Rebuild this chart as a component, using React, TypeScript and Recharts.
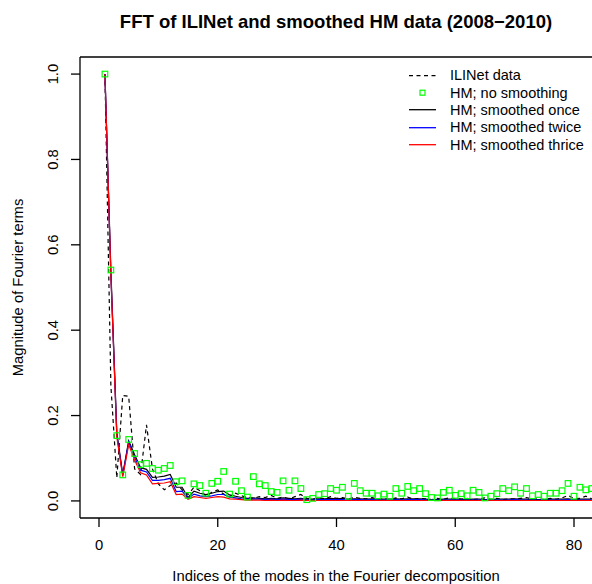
import React from "react";
import { ComposedChart, Line, XAxis, YAxis } from "recharts";

const FONT = "'Liberation Sans', Arial, Helvetica, sans-serif";

// mode index 1..83 (visible part of the plot)
const ilinet = [
  1.0, 0.27, 0.054, 0.247, 0.245, 0.075, 0.062, 0.178, 0.075, 0.04,
  0.026, 0.036, 0.042, 0.026, 0.015, 0.032, 0.024, 0.012, 0.02, 0.026,
  0.016, 0.01, 0.018, 0.012, 0.008, 0.006, 0.01, 0.008, 0.013, 0.006,
  0.009, 0.005, 0.01, 0.015, 0.006, 0.004, 0.008, 0.005, 0.01, 0.006,
  0.008, 0.004, 0.009, 0.006, 0.005, 0.008, 0.004, 0.006, 0.003, 0.007,
  0.005, 0.009, 0.004, 0.006, 0.005, 0.003, 0.006, 0.004, 0.007, 0.005,
  0.004, 0.006, 0.003, 0.005, 0.007, 0.004, 0.006, 0.003, 0.005, 0.004,
  0.006, 0.008, 0.004, 0.005, 0.003, 0.006, 0.004, 0.007, 0.013, 0.005,
  0.006, 0.011, 0.005,
];

const hmRaw = [
  1.0, 0.541, 0.153, 0.061, 0.144, 0.111, 0.085, 0.088, 0.076, 0.072,
  0.076, 0.083, 0.045, 0.047, 0.013, 0.04, 0.036, 0.018, 0.041, 0.046,
  0.069, 0.016, 0.046, 0.024, 0.009, 0.057, 0.04, 0.036, 0.022, 0.02,
  0.047, 0.025, 0.047, 0.029, 0.003, 0.006, 0.015, 0.017, 0.029, 0.025,
  0.032, 0.011, 0.041, 0.024, 0.018, 0.018, 0.012, 0.016, 0.011, 0.029,
  0.018, 0.034, 0.024, 0.029, 0.017, 0.008, 0.007, 0.02, 0.025, 0.013,
  0.017, 0.012, 0.025, 0.02, 0.007, 0.011, 0.017, 0.029, 0.024, 0.033,
  0.018, 0.029, 0.012, 0.015, 0.011, 0.018, 0.018, 0.024, 0.041, 0.011,
  0.032, 0.026, 0.029,
];

const hmOnce = [
  1.0, 0.54, 0.16, 0.062, 0.141, 0.108, 0.078, 0.074, 0.055, 0.056,
  0.058, 0.062, 0.032, 0.032, 0.008, 0.023, 0.018, 0.015, 0.018, 0.022,
  0.023, 0.014, 0.011, 0.008, 0.006, 0.007, 0.006, 0.005, 0.006, 0.005,
  0.007, 0.006, 0.005, 0.006, 0.004, 0.004, 0.005, 0.005, 0.006, 0.005,
  0.006, 0.004, 0.005, 0.005, 0.004, 0.005, 0.004, 0.004, 0.004, 0.005,
  0.004, 0.005, 0.005, 0.005, 0.004, 0.003, 0.003, 0.004, 0.004, 0.004,
  0.004, 0.003, 0.004, 0.004, 0.003, 0.003, 0.004, 0.004, 0.004, 0.005,
  0.004, 0.004, 0.003, 0.003, 0.003, 0.004, 0.004, 0.004, 0.005, 0.003,
  0.004, 0.004, 0.004,
];

const hmTwice = [
  1.0, 0.53, 0.155, 0.06, 0.138, 0.102, 0.072, 0.068, 0.048, 0.048,
  0.05, 0.053, 0.022, 0.023, 0.006, 0.016, 0.012, 0.01, 0.012, 0.015,
  0.015, 0.009, 0.007, 0.005, 0.004, 0.004, 0.004, 0.003, 0.004, 0.003,
  0.004, 0.003, 0.003, 0.004, 0.002, 0.002, 0.003, 0.003, 0.003, 0.003,
  0.003, 0.002, 0.003, 0.003, 0.002, 0.003, 0.002, 0.002, 0.002, 0.003,
  0.002, 0.003, 0.003, 0.003, 0.002, 0.002, 0.002, 0.002, 0.002, 0.002,
  0.002, 0.002, 0.002, 0.002, 0.002, 0.002, 0.002, 0.002, 0.002, 0.003,
  0.002, 0.002, 0.002, 0.002, 0.002, 0.002, 0.002, 0.002, 0.003, 0.002,
  0.002, 0.002, 0.002,
];

const hmThrice = [
  1.0, 0.53, 0.15, 0.057, 0.132, 0.096, 0.066, 0.061, 0.04, 0.041,
  0.042, 0.045, 0.015, 0.016, 0.004, 0.01, 0.008, 0.006, 0.008, 0.01,
  0.009, 0.005, 0.004, 0.003, 0.002, 0.002, 0.002, 0.001, 0.002, 0.001,
  0.002, 0.001, 0.001, 0.002, 0.001, 0.001, 0.001, 0.001, 0.001, 0.001,
  0.001, 0.001, 0.001, 0.001, 0.001, 0.001, 0.001, 0.001, 0.001, 0.001,
  0.001, 0.001, 0.001, 0.001, 0.001, 0.001, 0.001, 0.001, 0.001, 0.001,
  0.001, 0.001, 0.001, 0.001, 0.001, 0.001, 0.001, 0.001, 0.001, 0.001,
  0.001, 0.001, 0.001, 0.001, 0.001, 0.001, 0.001, 0.001, 0.001, 0.001,
  0.001, 0.001, 0.001,
];

const xTicks = [0, 20, 40, 60, 80];
const yTicks = [0, 0.2, 0.4, 0.6, 0.8, 1.0];

const legendItems = [
  { label: "ILINet data", kind: "dash", color: "#000000" },
  { label: "HM; no smoothing", kind: "square", color: "#00ff00" },
  { label: "HM; smoothed once", kind: "line", color: "#000000" },
  { label: "HM; smoothed twice", kind: "line", color: "#0000ff" },
  { label: "HM; smoothed thrice", kind: "line", color: "#ff0000" },
];

const data = ilinet.map((v, i) => ({
  idx: i + 1,
  ilinet: v,
  raw: hmRaw[i],
  once: hmOnce[i],
  twice: hmTwice[i],
  thrice: hmThrice[i],
}));

const XTick = ({ x, payload }: any) => (
  <text x={x} y={550} textAnchor="middle" fontSize={14.8} fontFamily={FONT} fill="#000">
    {payload.value}
  </text>
);

const YTick = ({ y, payload }: any) => (
  <text
    x={58}
    y={y}
    transform={`rotate(-90, 58, ${y})`}
    textAnchor="middle"
    fontSize={14.8}
    fontFamily={FONT}
    fill="#000"
  >
    {payload.value.toFixed(1)}
  </text>
);

const Square = (props: any) => {
  const { cx, cy, index } = props;
  if (cx == null || cy == null) return <g key={index} />;
  return (
    <rect key={index} x={cx - 2.8} y={cy - 2.8} width={5.6} height={5.6}
      fill="none" stroke="#00ff00" strokeWidth={1.2} />
  );
};

// legend drawn in its own layer so it doesn't eat plot space
const LegendBox = () => (
  <div style={{ position: "absolute", top: 66.5, left: 405, width: 190, fontFamily: FONT, fontSize: 14.5, color: "#000" }}>
    {legendItems.map((it) => (
      <div key={it.label} style={{ display: "flex", alignItems: "center", height: 17.4 }}>
        <svg width={45} height={17.4} style={{ flex: "none" }}>
          {it.kind === "square" ? (
            <rect x={15} y={6.2} width={5} height={5} fill="none" stroke={it.color} strokeWidth={1.2} />
          ) : (
            <line x1={4} x2={31} y1={8.7} y2={8.7} stroke={it.color} strokeWidth={1.3}
              strokeDasharray={it.kind === "dash" ? "4 3.5" : undefined} />
          )}
        </svg>
        <span style={{ whiteSpace: "nowrap" }}>{it.label}</span>
      </div>
    ))}
  </div>
);

export default function App() {
  return (
    <div style={{ position: "absolute", left: 0, top: 0, width: 592, height: 584, overflow: "hidden", background: "#fff" }}>
      <ComposedChart width={594} height={584} data={data}
        margin={{ top: 57, right: 1, left: 20, bottom: 26 }}>
        <XAxis dataKey="idx" type="number" domain={[-3.2, 83.2]} ticks={xTicks}
          allowDataOverflow interval={0} height={40}
          axisLine={{ stroke: "#000", strokeWidth: 1.3 }} tickLine={{ stroke: "#000", strokeWidth: 1.3 }}
          tickSize={9} tick={<XTick />} />
        <YAxis type="number" domain={[-0.04, 1.04]} ticks={yTicks} allowDataOverflow
          interval={0} width={60}
          axisLine={{ stroke: "#000", strokeWidth: 1.3 }} tickLine={{ stroke: "#000", strokeWidth: 1.3 }}
          tickSize={9} tick={<YTick />} />
        <Line dataKey="ilinet" stroke="#000" strokeWidth={1.2} strokeDasharray="4 3.5"
          dot={false} activeDot={false} isAnimationActive={false} type="linear" />
        <Line dataKey="raw" stroke="none" strokeWidth={0} dot={Square} activeDot={false}
          isAnimationActive={false} />
        <Line dataKey="once" stroke="#000" strokeWidth={1.2} dot={false} activeDot={false}
          isAnimationActive={false} type="linear" />
        <Line dataKey="twice" stroke="#0000ff" strokeWidth={1.2} dot={false} activeDot={false}
          isAnimationActive={false} type="linear" />
        <Line dataKey="thrice" stroke="#ff0000" strokeWidth={1.2} dot={false} activeDot={false}
          isAnimationActive={false} type="linear" />
      </ComposedChart>
      <LegendBox />
      <svg width={592} height={584} style={{ position: "absolute", left: 0, top: 0, pointerEvents: "none" }}>
        {/* top edge of the plot box */}
        <line x1={80} x2={594} y1={57} y2={57} stroke="#000" strokeWidth={1.3} />
        <text x={336} y={28} textAnchor="middle" fontFamily={FONT} fontWeight="bold" fontSize={18.5} fill="#000">
          FFT of ILINet and smoothed HM data (2008−2010)
        </text>
        <text x={336} y={581} textAnchor="middle" fontFamily={FONT} fontSize={14.8} fill="#000">
          Indices of the modes in the Fourier decomposition
        </text>
        <text x={23} y={287.5} transform="rotate(-90, 23, 287.5)" textAnchor="middle"
          fontFamily={FONT} fontSize={14.8} fill="#000">
          Magnitude of Fourier terms
        </text>
      </svg>
    </div>
  );
}
